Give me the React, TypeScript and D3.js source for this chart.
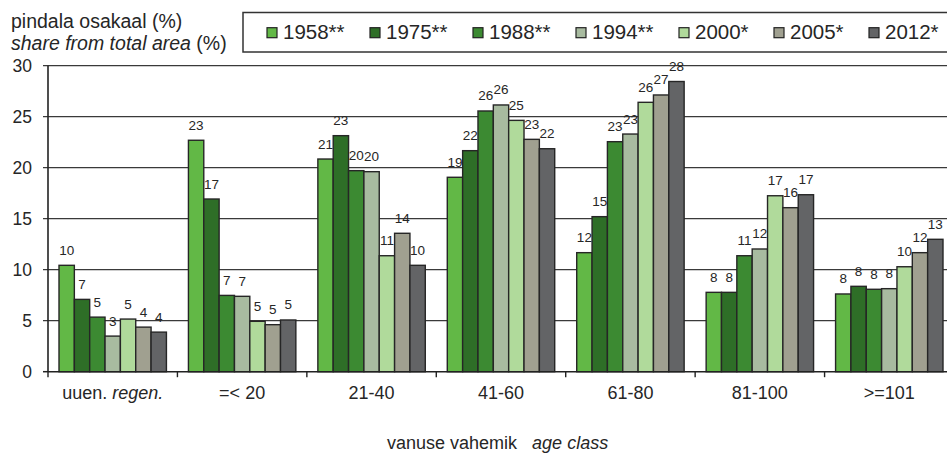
import React from "react";
import * as d3 from "d3";

const categories = ["uuen. regen.", "=< 20", "21-40", "41-60", "61-80", "81-100", ">=101"];
const series = ["1958**", "1975**", "1988**", "1994**", "2000*", "2005*", "2012*"];
const colors = ["#62b846", "#2e6e27", "#3c8a32", "#a8bba0", "#b0da9b", "#a0a090", "#636466"];

const v1958 = [10.43, 22.69, 20.85, 19.06, 11.67, 7.78, 7.62];
const v1975 = [7.09, 16.93, 23.14, 21.67, 15.2, 7.78, 8.37];
const v1988 = [5.35, 7.48, 19.71, 25.56, 22.55, 11.37, 8.08];
const v1994 = [3.49, 7.39, 19.61, 26.15, 23.3, 12.03, 8.14];
const v2000 = [5.16, 4.94, 11.37, 24.64, 26.41, 17.25, 10.29];
const v2005 = [4.37, 4.61, 13.57, 22.78, 27.13, 16.08, 11.67];
const v2012 = [3.88, 5.07, 10.43, 21.86, 28.45, 17.35, 12.98];
const values = [v1958, v1975, v1988, v1994, v2000, v2005, v2012];

const yTicks = [0, 5, 10, 15, 20, 25, 30];

const FONT = "'Liberation Sans', Arial, sans-serif";
const TXT = "#262626";

export default function App() {
  const W = 947, H = 453;
  const left = 48, right = 954, top = 65.7, bottom = 371.7;
  const x0 = d3.scaleBand<string>().domain(categories).range([left, right]).paddingInner(0).paddingOuter(0);
  const x1 = d3.scaleBand<string>().domain(series).range([0, x0.bandwidth()]).paddingInner(0).paddingOuter(0.717);
  const y = d3.scaleLinear().domain([0, 30]).range([bottom, top]);

  const legendStart = 267;
  let acc = legendStart;
  const legendPos = series.map((s) => {
    const stars = (s.match(/\*/g) || []).length;
    const p = acc;
    acc += 87 + 8 * stars;
    return p;
  });

  return (
    <svg width={W} height={H} style={{ position: "absolute", left: 0, top: 0, background: "#fff" }} fontFamily={FONT}>
      <rect x={0} y={0} width={W} height={H} fill="#fff" />
      {/* y title */}
      <text x={11} y={28} fontSize={19.5} fill={TXT}>pindala osakaal (%)</text>
      <text x={11} y={50} fontSize={19.5} fill={TXT}>
        <tspan fontStyle="italic">share from total area</tspan> (%)
      </text>
      {/* legend */}
      <rect x={243} y={12.5} width={720} height={39.5} fill="#fff" stroke="#333" strokeWidth={1.5} />
      {series.map((s, i) => (
        <g key={s}>
          <rect x={legendPos[i]} y={27.7} width={10} height={10} fill={colors[i]} stroke="#222" strokeWidth={1.2} />
          <text x={legendPos[i] + 16} y={39.3} fontSize={20.5} fill={TXT}>{s}</text>
        </g>
      ))}
      {/* gridlines */}
      {yTicks.map((t) => (
        <g key={t}>
          {t > 0 && <line x1={left - 5} x2={right} y1={y(t)} y2={y(t)} stroke="#3a3a3a" strokeWidth={1.3} />}
          {t === 0 && <line x1={left - 5} x2={left} y1={y(t)} y2={y(t)} stroke="#222" strokeWidth={1.5} />}
          <text x={32} y={y(t)} dy="0.35em" textAnchor="end" fontSize={17.5} fill={TXT}>{t}</text>
        </g>
      ))}
      {/* bars */}
      {categories.map((c, ci) => (
        <g key={c} transform={`translate(${x0(c)},0)`}>
          {series.map((s, si) => {
            const v = values[si][ci];
            const bx = x1(s)!;
            return (
              <g key={s}>
                <rect x={bx} y={y(v)} width={x1.bandwidth()} height={y(0) - y(v)} fill={colors[si]} stroke="#262626" strokeWidth={1.4} />
                <text x={bx + x1.bandwidth() / 2} y={y(v) - 10.5} textAnchor="middle" fontSize={13.5} fill={TXT}>{Math.round(v)}</text>
              </g>
            );
          })}
        </g>
      ))}
      {/* axes */}
      <line x1={left} x2={left} y1={top} y2={bottom} stroke="#222" strokeWidth={1.6} />
      <line x1={left} x2={right} y1={bottom} y2={bottom} stroke="#222" strokeWidth={1.6} />
      {categories.map((c) => (
        <g key={c}>
          <line x1={x0(c)} x2={x0(c)} y1={bottom} y2={bottom + 5.5} stroke="#222" strokeWidth={1.4} />
        </g>
      ))}
      {categories.map((c) => {
        const cx = x0(c)! + x0.bandwidth() / 2;
        if (c === "uuen. regen.") {
          return (
            <text key={c} x={cx} y={399} textAnchor="middle" fontSize={18} fill={TXT}>
              uuen. <tspan fontStyle="italic">regen.</tspan>
            </text>
          );
        }
        return (
          <text key={c} x={cx} y={399} textAnchor="middle" fontSize={18} fill={TXT}>{c}</text>
        );
      })}
      <text x={387} y={449} fontSize={18} fill={TXT} xmlSpace="preserve">
        vanuse vahemik{"\u00a0\u00a0 "}<tspan fontStyle="italic">age class</tspan>
      </text>
    </svg>
  );
}
